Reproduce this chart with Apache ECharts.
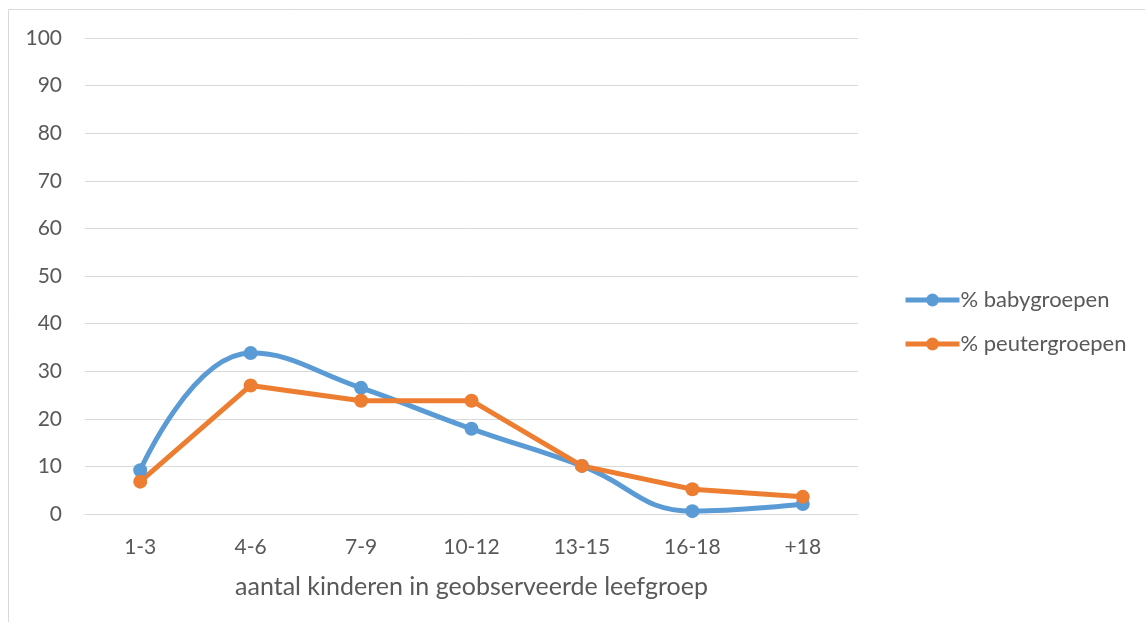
<!DOCTYPE html>
<html><head><meta charset="utf-8">
<script src="https://cdn.jsdelivr.net/npm/echarts@6/dist/echarts.min.js"></script>
<style>html,body{margin:0;padding:0;background:#fff}#c{width:1145px;height:622px}</style>
</head><body><div id="c"></div>
<script>
const categories = ['1-3','4-6','7-9','10-12','13-15','16-18','+18'];
const babyValues = [9.2, 33.8, 26.5, 17.9, 10.1, 0.6, 2.1];
const peuterValues = [6.8, 27.0, 23.8, 23.8, 10.1, 5.2, 3.6];
const yTicks = [0,10,20,30,40,50,60,70,80,90,100];
const seriesNames = ['% babygroepen', '% peutergroepen'];
const xTitle = 'aantal kinderen in geobserveerde leefgroep';

const font = 'Lato, "Open Sans", sans-serif';
const chart = echarts.init(document.getElementById('c'));
chart.setOption({
  animation: false,
  graphic: [{
    type: 'rect', silent: true,
    shape: {x: 8.5, y: 9.5, width: 1200, height: 700},
    style: {fill: 'none', stroke: '#D9D9D9', lineWidth: 1}
  }],
  grid: {left: 85, right: 287, top: 38, bottom: 108},
  legend: {
    orient: 'vertical', left: 898, top: 284, itemGap: 22,
    itemWidth: 54, itemHeight: 16,
    lineStyle: {width: 5},
    textStyle: {fontFamily: font, fontSize: 22, color: '#595959', padding: [0,0,0,-4]},
    data: seriesNames
  },
  xAxis: {
    type: 'category', data: categories, boundaryGap: true,
    axisLine: {show: true, lineStyle: {color: '#D9D9D9', width: 1}},
    axisTick: {show: false},
    axisLabel: {fontFamily: font, fontSize: 21, color: '#595959', margin: 23},
    name: xTitle, nameLocation: 'middle', nameGap: 60,
    nameTextStyle: {fontFamily: font, fontSize: 25, color: '#595959'}
  },
  yAxis: {
    type: 'value', min: 0, max: yTicks[yTicks.length-1], interval: yTicks[1]-yTicks[0],
    axisLine: {show: false}, axisTick: {show: false},
    axisLabel: {fontFamily: font, fontSize: 21, color: '#595959', margin: 23},
    splitLine: {lineStyle: {color: '#D9D9D9', width: 1}}
  },
  series: [{
    name: seriesNames[0], type: 'line', data: babyValues, smooth: 0.45,
    symbol: 'circle', symbolSize: 14,
    lineStyle: {color: '#5B9BD5', width: 5},
    itemStyle: {color: '#5B9BD5'}
  }, {
    name: seriesNames[1], type: 'line', data: peuterValues, smooth: false,
    symbol: 'circle', symbolSize: 14,
    lineStyle: {color: '#ED7D31', width: 5},
    itemStyle: {color: '#ED7D31'}
  }]
});
</script></body></html>
